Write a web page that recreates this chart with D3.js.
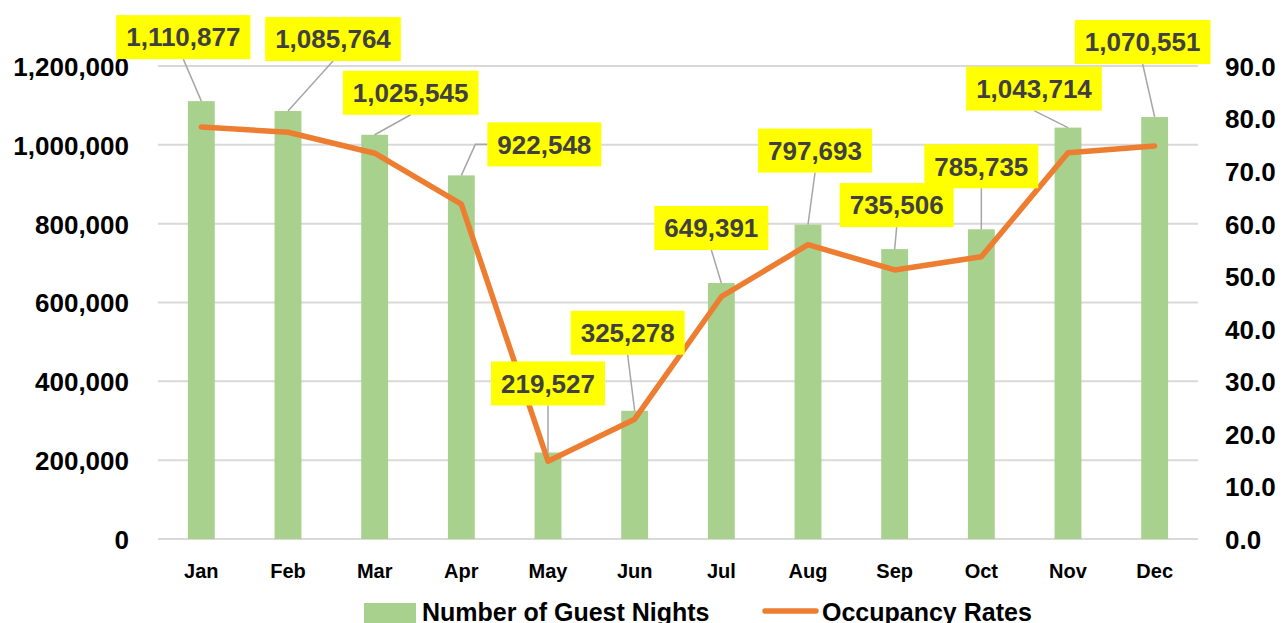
<!DOCTYPE html>
<html>
<head>
<meta charset="utf-8">
<script src="https://cdn.jsdelivr.net/npm/d3@7"></script>
<style>
  body { margin: 0; background: #fff; }
  text { font-family: "Liberation Sans", Arial, sans-serif; font-weight: bold; }
</style>
</head>
<body>
<div id="chart"></div>
<script>
// chart data
var months = ["Jan", "Feb", "Mar", "Apr", "May", "Jun", "Jul", "Aug", "Sep", "Oct", "Nov", "Dec"];
var guestNights = [1110877, 1085764, 1025545, 922548, 219527, 325278, 649391, 797693, 735506, 785735, 1043714, 1070551];
var occupancy = [78.4, 77.4, 73.4, 63.7, 14.8, 22.8, 46.1, 56.0, 51.2, 53.7, 73.5, 74.8];
var leftTicks = [0, 200000, 400000, 600000, 800000, 1000000, 1200000];
var rightTicks = [0, 10, 20, 30, 40, 50, 60, 70, 80, 90];
var seriesNames = ["Number of Guest Nights", "Occupancy Rates"];

// where each data label box sits, relative to the top of its bar (layout only)
var labelDx = [-18, 45, 36, 83, 0, -7, -10, 7, 2, 0, -34, -12];
var labelDy = [-64, -72, -42, -31, -69, -78, -55, -74, -44, -63, -39, -75];
var leaderToLeft = [false, false, false, true, false, false, false, false, false, false, false, false];

var svgWidth = 1282;
var svgHeight = 623;
var plot = { left: 158, right: 1198, top: 66, bottom: 539 };

var svg = d3.select("#chart")
    .append("svg")
    .attr("width", svgWidth)
    .attr("height", svgHeight);

// scales
var x = d3.scaleBand()
    .domain(months)
    .range([plot.left, plot.right])
    .paddingInner(0.69)
    .paddingOuter(0.345);
var yLeft = d3.scaleLinear()
    .domain([0, 1200000])
    .range([plot.bottom, plot.top]);
var yRight = d3.scaleLinear()
    .domain([0, 90])
    .range([plot.bottom, plot.top]);
var cx = function(m) { return x(m) + x.bandwidth() / 2; };

// gridlines
svg.append("g")
    .selectAll("line")
    .data(leftTicks)
    .enter()
    .append("line")
    .attr("x1", plot.left)
    .attr("x2", plot.right)
    .attr("y1", d => yLeft(d))
    .attr("y2", d => yLeft(d))
    .attr("stroke", "#d9d9d9")
    .attr("stroke-width", 2);

// left axis
var leftAxis = d3.axisLeft(yLeft)
    .tickValues(leftTicks)
    .tickFormat(d3.format(","))
    .tickSize(0)
    .tickPadding(0);
var gL = svg.append("g")
    .attr("transform", "translate(129,0)")
    .call(leftAxis);
gL.select(".domain").remove();
gL.selectAll("text")
    .style("font-size", "26px")
    .attr("fill", "#000")
    .attr("dy", "0.36em");

// right axis
var rightAxis = d3.axisRight(yRight)
    .tickValues(rightTicks)
    .tickFormat(d3.format(".1f"))
    .tickSize(0)
    .tickPadding(0);
var gR = svg.append("g")
    .attr("transform", "translate(1225,0)")
    .call(rightAxis);
gR.select(".domain").remove();
gR.selectAll("text")
    .style("font-size", "26px")
    .attr("fill", "#000")
    .attr("dy", "0.36em");

// bottom axis
var bottomAxis = d3.axisBottom(x)
    .tickSize(0)
    .tickPadding(0);
var gB = svg.append("g")
    .attr("transform", `translate(0, ${plot.bottom})`)
    .call(bottomAxis);
gB.select(".domain").remove();
gB.selectAll("text")
    .style("font-size", "20px")
    .attr("fill", "#000")
    .attr("y", 39)
    .attr("dy", 0);

// bars
svg.append("g")
    .selectAll("rect")
    .data(months)
    .enter()
    .append("rect")
    .attr("x", d => x(d))
    .attr("width", x.bandwidth())
    .attr("y", (d, i) => yLeft(guestNights[i]))
    .attr("height", (d, i) => plot.bottom - yLeft(guestNights[i]))
    .attr("fill", "#a9d18e");

// occupancy line
var line = d3.line()
    .x((d, i) => cx(months[i]))
    .y(d => yRight(d));
svg.append("path")
    .datum(occupancy)
    .attr("d", line)
    .attr("fill", "none")
    .attr("stroke", "#ed7d31")
    .attr("stroke-width", 5.5)
    .attr("stroke-linejoin", "round")
    .attr("stroke-linecap", "round");

// data labels
var fmt = d3.format(",");
var labels = svg.append("g");
months.forEach(function(m, i) {
    var bx = cx(m);
    var by = yLeft(guestNights[i]);
    var lx = bx + labelDx[i];
    var ly = by + labelDy[i];
    var g = labels.append("g");
    var leader = g.append("path")
        .attr("fill", "none")
        .attr("stroke", "#a6a6a6")
        .attr("stroke-width", 1.5);
    var rect = g.append("rect").attr("fill", "#ffff00");
    var t = g.append("text")
        .attr("x", lx)
        .attr("y", ly)
        .attr("dy", "0.36em")
        .attr("text-anchor", "middle")
        .style("font-size", "26px")
        .attr("fill", "#404040")
        .text(fmt(guestNights[i]));
    var w = t.node().getComputedTextLength() + 20;
    var h = 44;
    rect.attr("x", lx - w / 2).attr("y", ly - h / 2).attr("width", w).attr("height", h);
    if (leaderToLeft[i]) {
        var ex = lx - w / 2;
        leader.attr("d", `M${bx},${by}L${ex - 12},${ly}L${ex},${ly}`);
    } else {
        leader.attr("d", `M${bx},${by}L${lx},${ly + h / 2}`);
    }
});

// legend
var legend = svg.append("g");
legend.append("rect")
    .attr("x", 364)
    .attr("y", 603)
    .attr("width", 52)
    .attr("height", 22)
    .attr("fill", "#a9d18e");
legend.append("text")
    .attr("x", 422)
    .attr("y", 621)
    .style("font-size", "25px")
    .attr("fill", "#000")
    .text(seriesNames[0]);
legend.append("line")
    .attr("x1", 765)
    .attr("x2", 816)
    .attr("y1", 611)
    .attr("y2", 611)
    .attr("stroke", "#ed7d31")
    .attr("stroke-width", 5.5)
    .attr("stroke-linecap", "round");
legend.append("text")
    .attr("x", 822)
    .attr("y", 621)
    .style("font-size", "25px")
    .attr("fill", "#000")
    .text(seriesNames[1]);
</script>
</body>
</html>
